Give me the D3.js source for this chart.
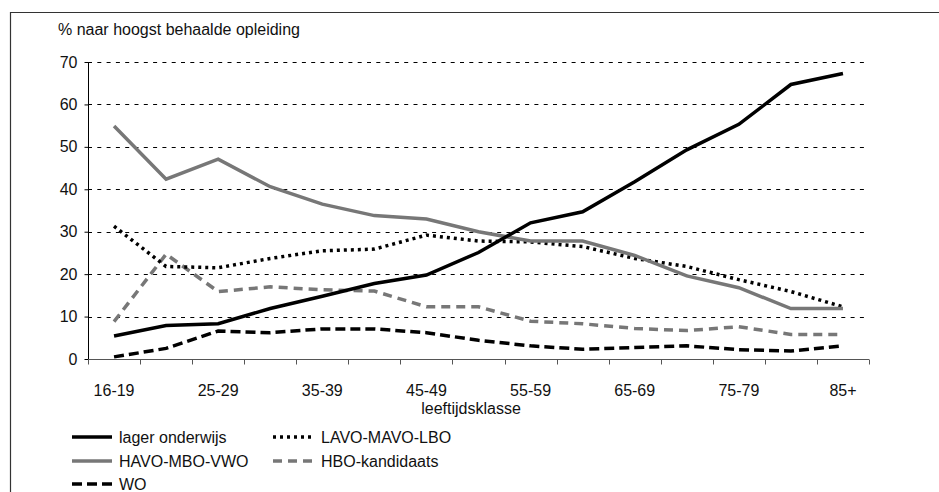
<!DOCTYPE html>
<html lang="nl">
<head>
<meta charset="UTF-8">
<title>Opleiding naar leeftijdsklasse</title>
<style>
    body { margin: 0; background: #fff; }
    svg { display: block; font-family: "Liberation Sans", Arial, sans-serif; }
    .grid line { stroke: #000; stroke-width: 1; stroke-dasharray: 4,5.3; }
    .lbl { font-size: 16px; fill: #111; }
</style>
</head>
<body>
<svg id="chart" width="939" height="492"></svg>
<script src="https://d3js.org/d3.v7.min.js"></script>
<script>
    const ageGroups = ['16-19','20-24','25-29','30-34','35-39','40-44','45-49','50-54','55-59','60-64','65-69','70-74','75-79','80-84','85+'];
    const shownAges = ['16-19','25-29','35-39','45-49','55-59','65-69','75-79','85+'];
    const yTicks = [0, 10, 20, 30, 40, 50, 60, 70];

    const lager = [5.4, 7.9, 8.3, 11.9, 14.8, 17.8, 19.8, 25.1, 32.1, 34.7, 41.8, 49.3, 55.3, 64.7, 67.3];
    const havo  = [54.9, 42.4, 47.1, 40.6, 36.5, 33.8, 33.0, 30.0, 27.8, 27.8, 24.4, 19.6, 16.8, 11.9, 11.9];
    const lavo  = [31.3, 21.8, 21.5, 23.7, 25.5, 25.9, 29.2, 27.8, 27.6, 26.5, 23.7, 21.8, 18.7, 15.9, 12.3];
    const hbo   = [8.8, 24.7, 15.9, 17.0, 16.3, 16.0, 12.3, 12.3, 8.9, 8.3, 7.2, 6.7, 7.6, 5.8, 5.8];
    const wo    = [0.5, 2.5, 6.6, 6.2, 7.1, 7.1, 6.2, 4.4, 3.1, 2.3, 2.7, 3.1, 2.2, 1.9, 3.1];

    const seriesNames = ['lager onderwijs', 'LAVO-MAVO-LBO', 'HAVO-MBO-VWO', 'HBO-kandidaats', 'WO'];
    const seriesValues = [lager, lavo, havo, hbo, wo];
    const styles = [
        { color: '#000', width: 3.5, dash: null },
        { color: '#000', width: 3.5, dash: '3,4' },
        { color: '#777', width: 3.5, dash: null },
        { color: '#777', width: 3.5, dash: '9,6' },
        { color: '#000', width: 3.5, dash: '10,5' }
    ];

    const svg = d3.select('#chart');

    // frame
    svg.append('path')
        .attr('d', 'M10.5,492 V12.5 H939')
        .attr('fill', 'none').attr('stroke', '#333').attr('stroke-width', 1.2);

    const x = d3.scaleBand().domain(ageGroups).range([88, 869]);
    const y = d3.scaleLinear().domain([0, 70]).range([359, 62]);

    // gridlines
    svg.append('g').attr('class', 'grid')
        .selectAll('line').data(yTicks.filter(t => t > 0)).join('line')
        .attr('x1', 88).attr('x2', 866)
        .attr('y1', d => Math.round(y(d)) + 0.5).attr('y2', d => Math.round(y(d)) + 0.5);

    // y axis
    const yAxis = svg.append('g').attr('transform', 'translate(88.5,0)')
        .call(d3.axisLeft(y).tickValues(yTicks).tickSize(4).tickPadding(7));
    yAxis.select('.domain').attr('stroke', '#000').attr('d', `M0,${y(70)}V364`);
    yAxis.selectAll('.tick line').attr('stroke', '#000');
    yAxis.selectAll('text').attr('class', 'lbl').attr('font-family', null).attr('fill', '#111');

    // x axis
    const xAxis = svg.append('g').attr('transform', 'translate(0,359.5)')
        .call(d3.axisBottom(x).tickValues(shownAges).tickSize(0).tickPadding(25));
    xAxis.select('.domain').attr('stroke', '#555').attr('d', 'M88,0H869');
    xAxis.selectAll('text').attr('class', 'lbl').attr('font-family', null).attr('fill', '#111');
    const bounds = ageGroups.map(a => x(a)).concat([x.range()[1]]);
    xAxis.append('g').selectAll('line').data(bounds).join('line')
        .attr('x1', d => Math.round(d) + 0.5).attr('x2', d => Math.round(d) + 0.5)
        .attr('y1', 0).attr('y2', 5).attr('stroke', '#555');

    // titles
    svg.append('text').attr('class', 'lbl').attr('x', 58).attr('y', 35)
        .text('% naar hoogst behaalde opleiding');
    svg.append('text').attr('class', 'lbl').attr('x', 471).attr('y', 414)
        .attr('text-anchor', 'middle').text('leeftijdsklasse');

    // lines
    const line = d3.line()
        .x((d, i) => x(ageGroups[i]) + x.bandwidth() / 2)
        .y(d => y(d));
    const drawOrder = [4, 3, 1, 2, 0];
    svg.append('g').selectAll('path').data(drawOrder).join('path')
        .attr('d', k => line(seriesValues[k]))
        .attr('fill', 'none')
        .attr('stroke', k => styles[k].color)
        .attr('stroke-width', k => styles[k].width)
        .attr('stroke-dasharray', k => styles[k].dash);

    // legend
    const legendPos = [[72, 437], [273, 437], [72, 461], [273, 461], [72, 484]];
    const leg = svg.append('g').selectAll('g').data(seriesNames).join('g')
        .attr('transform', (d, i) => `translate(${legendPos[i][0]},${legendPos[i][1]})`);
    leg.append('line')
        .attr('x1', 0).attr('x2', 40).attr('y1', 0).attr('y2', 0)
        .attr('stroke', (d, i) => styles[i].color)
        .attr('stroke-width', (d, i) => styles[i].width)
        .attr('stroke-dasharray', (d, i) => styles[i].dash);
    leg.append('text').attr('class', 'lbl')
        .attr('x', (d, i) => i % 2 === 0 ? 47 : 48).attr('y', 5.5)
        .text(d => d);
</script>
</body>
</html>
